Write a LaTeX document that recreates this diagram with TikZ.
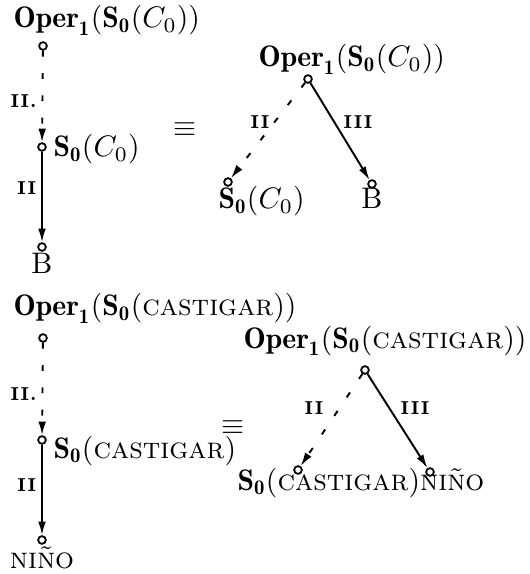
\documentclass[tikz,border=0pt]{standalone}
\usepackage{fontspec}
\usetikzlibrary{arrows.meta}
\tikzset{
  dotc/.style={circle,draw,line width=0.6pt,inner sep=0pt,minimum size=2.6pt,fill=white},
  edgebase/.style={line width=0.65pt,-{Latex[length=4.6pt,width=2.6pt]}},
  dashedge/.style={edgebase,dash pattern=on 2pt off 5.5pt},
  solidedge/.style={edgebase},
  rel/.style={font=\fontsize{6.3}{7}\selectfont\bfseries,inner sep=1.5pt},
  lab/.style={inner sep=0pt},
}
\begin{document}
\begin{tikzpicture}[x=0.3367pt,y=-0.3367pt]
\useasboundingbox (0,0) rectangle (529,574);
% ---------- top left ----------
\node[lab,anchor=base west] (tlA) at (13,28) {$\mathbf{Oper}_{\mathbf 1}(\mathbf{S_0}(C_0))$};
\node[dotc] (t1) at (43,46) {};
\node[dotc] (t2) at (42,147) {};
\node[dotc] (t3) at (42,247) {};
\node[lab,anchor=base west] (tlB) at (53,157) {$\mathbf{S_0}(C_0)$};
\node[lab,anchor=north] (tlC) at (42,253) {B};
\draw[dashedge] (t1) -- (t2) node[rel,pos=0.55,left] (r1) {II.};
\draw[solidedge] (t2) -- (t3) node[rel,pos=0.4,left] (r2) {II};
\node (eq1) at (185,130) {$\equiv$};
% ---------- top right ----------
\node[lab,anchor=base west] (trA) at (258,67) {$\mathbf{Oper}_{\mathbf 1}(\mathbf{S_0}(C_0))$};
\node[dotc] (u1) at (308,79) {};
\node[dotc] (u2) at (228,182) {};
\node[dotc] (u3) at (372,184) {};
\node[lab,anchor=base west] (trB) at (218,209) {$\mathbf{S_0}(C_0)$};
\node[lab,anchor=base] (trC) at (372,209) {B};
\draw[dashedge] (u1) -- (u2);
\draw[solidedge] (u1) -- (u3);
\node[rel] (r3) at (260,122) {II};
\node[rel] (r4) at (358,122) {III};
% ---------- bottom left ----------
\node[lab,anchor=base west] (blA) at (13,316) {$\mathbf{Oper}_{\mathbf 1}(\mathbf{S_0}(\textsc{castigar}))$};
\node[dotc] (v1) at (43,338) {};
\node[dotc] (v2) at (42,440) {};
\node[dotc] (v3) at (42,540) {};
\node[lab,anchor=base west] (blB) at (53,458) {$\mathbf{S_0}(\textsc{castigar})$};
\node[lab,anchor=north] (blC) at (42,546) {\textsc{niño}};
\draw[dashedge] (v1) -- (v2) node[rel,pos=0.55,left] (r5) {II.};
\draw[solidedge] (v2) -- (v3) node[rel,pos=0.45,left] (r6) {II};
\node (eq2) at (233,428) {$\equiv$};
% ---------- bottom right ----------
\node[lab,anchor=base west] (brA) at (243,348) {$\mathbf{Oper}_{\mathbf 1}(\mathbf{S_0}(\textsc{castigar}))$};
\node[dotc] (w1) at (365,370) {};
\node[dotc] (w2) at (298,470) {};
\node[dotc] (w3) at (430,472) {};
\node[lab,anchor=base west] (brB) at (237,490) {$\mathbf{S_0}(\textsc{castigar})$\textsc{niño}};
\draw[dashedge] (w1) -- (w2);
\draw[solidedge] (w1) -- (w3);
\node[rel] (r7) at (314,408) {II};
\node[rel] (r8) at (415,408) {III};
\end{tikzpicture}
\end{document}
